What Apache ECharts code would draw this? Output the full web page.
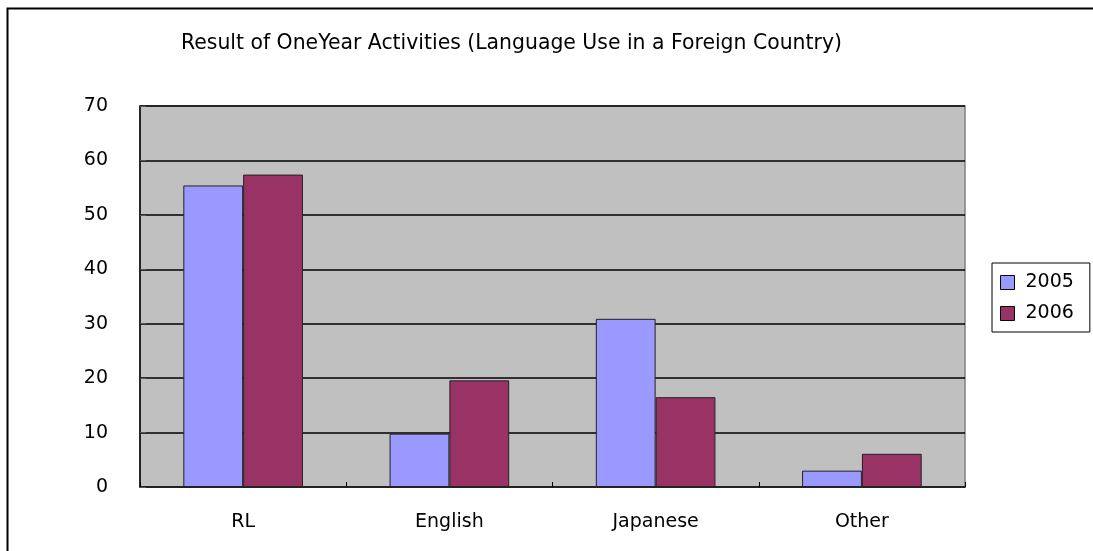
<!DOCTYPE html>
<html>
<head>
<meta charset="utf-8">
<script src="https://cdn.jsdelivr.net/npm/echarts@6/dist/echarts.min.js"></script>
<style>
html,body{margin:0;padding:0;background:#fff;}
#chart{width:1093px;height:551px;}
</style>
</head>
<body>
<div id="chart"></div>
<script>
const categories = ['RL', 'English', 'Japanese', 'Other'];
const values2005 = [55.4, 9.8, 30.9, 3.0];
const values2006 = [57.4, 19.6, 16.5, 6.1];
const yTicks = [0, 10, 20, 30, 40, 50, 60, 70];

const chart = echarts.init(document.getElementById('chart'));
const labelFont = '"DejaVu Sans", sans-serif';
chart.setOption({
  animation: false,
  backgroundColor: '#ffffff',
  title: {
    text: 'Result of OneYear Activities (Language Use in a Foreign Country)',
    left: 176,
    top: 29,
    textStyle: {
      fontFamily: '"DejaVu Sans", sans-serif',
      fontWeight: 'normal',
      fontSize: 20.4,
      color: '#000'
    }
  },
  graphic: [{
    type: 'rect',
    silent: true,
    z: -10,
    shape: { x: 7.5, y: 8.5, width: 1200, height: 700 },
    style: { fill: 'none', stroke: '#000', lineWidth: 2 }
  }],
  legend: {
    orient: 'vertical',
    left: 992,
    top: 263,
    padding: [10, 16, 9, 8],
    itemGap: 12,
    itemWidth: 14,
    itemHeight: 14,
    borderColor: '#000',
    borderWidth: 1,
    backgroundColor: '#fff',
    textStyle: { fontFamily: labelFont, fontSize: 19, color: '#000', padding: [0, 0, 0, 6] },
    data: [
      { name: '2005', icon: 'rect', itemStyle: { borderColor: '#000', borderWidth: 1 } },
      { name: '2006', icon: 'rect', itemStyle: { borderColor: '#000', borderWidth: 1 } }
    ]
  },
  grid: {
    left: 140,
    top: 106,
    right: 128,
    bottom: 64,
    show: true,
    backgroundColor: '#c0c0c0',
    borderColor: '#808080',
    borderWidth: 1.5
  },
  xAxis: {
    type: 'category',
    data: categories,
    axisLine: { show: true, lineStyle: { color: '#222', width: 1.5 } },
    axisTick: { show: true, inside: true, length: 5, alignWithLabel: false, lineStyle: { color: '#000' } },
    axisLabel: { margin: 26, fontFamily: labelFont, fontSize: 19, color: '#000' },
    splitLine: { show: false }
  },
  yAxis: {
    type: 'value',
    min: yTicks[0],
    max: yTicks[yTicks.length - 1],
    interval: 10,
    axisLine: { show: true, lineStyle: { color: '#000', width: 1.5 } },
    axisTick: { show: true, inside: true, length: 6, lineStyle: { color: '#555' } },
    axisLabel: { margin: 32, fontFamily: labelFont, fontSize: 19, color: '#000' },
    splitLine: { show: true, lineStyle: { color: '#000', width: 1.5 } }
  },
  series: [
    {
      name: '2005',
      type: 'bar',
      data: values2005,
      barGap: '0%',
      barCategoryGap: '42%',
      itemStyle: { color: '#9999ff', borderColor: '#222', borderWidth: 1 }
    },
    {
      name: '2006',
      type: 'bar',
      data: values2006,
      barGap: '0%',
      barCategoryGap: '42%',
      itemStyle: { color: '#993366', borderColor: '#222', borderWidth: 1 }
    }
  ]
});
</script>
</body>
</html>
